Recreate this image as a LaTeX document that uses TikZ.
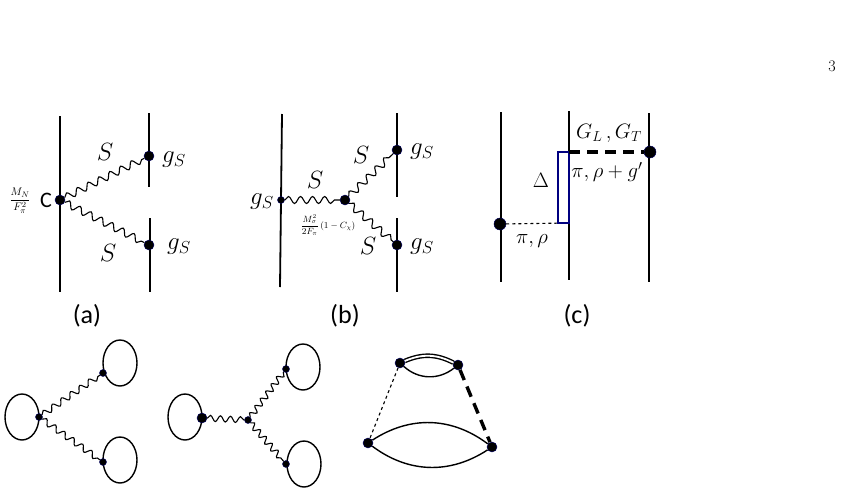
\documentclass[tikz,border=0pt]{standalone}
\usepackage{amsmath}
\usepackage{fontspec}
\newfontfamily\calibri{Carlito}
\usetikzlibrary{decorations.pathmorphing, positioning, calc}
\tikzset{
  fermion/.style = {line width=1.8pt},
  fermionC/.style = {line width=2.6pt},
  vertex/.style = {circle, fill=black, draw=blue!40!black, inner sep=0pt, minimum size=10pt},
  svertex/.style = {circle, fill=black, draw=blue!40!black, inner sep=0pt, minimum size=7pt},
  scalar/.style = {decorate, decoration={snake, amplitude=3.5pt, segment length=12pt}, line width=1.1pt},
  mlabel/.style = {font=\fontsize{24}{24}\selectfont},
  clabel/.style = {font=\fontsize{20}{20}\selectfont, inner sep=1pt},
  caption/.style = {font=\calibri\fontsize{26}{26}\selectfont},
  loopC/.style = {line width=1.4pt},
}
\begin{document}
\begin{tikzpicture}[x=0.35mm, y=-0.35mm]
    \useasboundingbox (0,0) rectangle (854,492);
    \node[font=\fontsize{16}{16}\selectfont] (pg) at (832,66) {3};

    % (a)
    \draw[fermion] (60,116) -- (60,292);
    \draw[fermion] (149,113) -- (149,187);
    \draw[fermion] (150,218) -- (150,292);
    \node[vertex] (a0) at (60,200) {};
    \node[vertex] (a1) at (149,156) {};
    \node[vertex] (a2) at (149,245) {};
    \draw[scalar] (a0) -- (a1);
    \draw[scalar] (a0) -- (a2);
    \node[mlabel] (aS1) at (105,152) {$S$};
    \node[mlabel] (aS2) at (108,253) {$S$};
    \node[mlabel] (ag1) at (174,160) {$g_S$};
    \node[mlabel] (ag2) at (179,247) {$g_S$};
    \node[font=\fontsize{11}{11}\selectfont, inner sep=0pt] (aF) at (20,201) {$\dfrac{M_N}{F_\pi^2}$};
    \node[font=\calibri\fontsize{22}{22}\selectfont, inner sep=0pt] (aC) at (46,200) {C};
    \node[caption] (capa) at (87,316) {(a)};

    % (b)
    \draw[fermion] (282,114) -- (280,287);
    \draw[fermion] (397,113) -- (397,197);
    \draw[fermion] (397,218) -- (397,292);
    \node[svertex] (b0) at (281,200) {};
    \node[vertex] (b1) at (345,200) {};
    \node[vertex] (b2) at (397,150) {};
    \node[vertex] (b3) at (397,245) {};
    \draw[scalar] (b0) -- (b1);
    \draw[scalar] (b1) -- (b2);
    \draw[scalar] (b1) -- (b3);
    \node[mlabel] (bS1) at (315,180) {$S$};
    \node[mlabel] (bS2) at (361,155) {$S$};
    \node[mlabel] (bS3) at (368,246) {$S$};
    \node[mlabel] (bg0) at (262,202) {$g_S$};
    \node[mlabel] (bg1) at (422,152) {$g_S$};
    \node[mlabel] (bg2) at (422,247) {$g_S$};
    \node[font=\fontsize{9}{9}\selectfont, inner sep=0pt] (bM) at (328,225) {$\dfrac{M_\sigma^2}{2F_\pi}\,(1-C_\chi)$};
    \node[caption] (capb) at (345,316) {(b)};

    % (c)
    \draw[fermionC] (501,112) -- (501,282);
    \draw[fermionC] (569,111) -- (569,280);
    \draw[fermionC] (649,113) -- (649,282);
    \node[vertex, minimum size=12pt] (c0) at (500,224) {};
    \node[vertex, minimum size=12pt] (c1) at (650,152) {};
    \coordinate (cm0) at (569,223);
    \coordinate (cm1) at (569,152);
    \draw[dashed, line width=1.1pt] (c0) -- (cm0);
    \draw[blue!50!black, line width=1.1pt] (558,152) rectangle (569,223);
    \draw[line width=3.4pt, dash pattern=on 11pt off 7pt] (cm1) -- (c1);
    \node[clabel] (cG) at (609,133) {$G_L\,,G_T$};
    \node[clabel] (cP) at (607,172) {$\pi,\mathrm{\rho}+g'$};
    \node[clabel] (cD) at (541,180) {$\Delta$};
    \node[clabel] (cp) at (532,241) {$\pi,\rho$};
    \node[caption] (capc) at (577,316) {(c)};

    % bottom row, left
    \draw[loopC] (22,417) ellipse (17 and 23);
    \draw[loopC] (120,363) ellipse (17 and 23);
    \draw[loopC] (120,460) ellipse (17 and 23);
    \node[svertex] (d0) at (39,417) {};
    \node[svertex] (d1) at (103,373) {};
    \node[svertex] (d2) at (103,462) {};
    \draw[scalar, decoration={amplitude=3pt, segment length=11pt}] (d0) -- (d1);
    \draw[scalar, decoration={amplitude=3pt, segment length=11pt}] (d0) -- (d2);

    % bottom row, middle
    \draw[loopC] (185,417) ellipse (17 and 23);
    \draw[loopC] (303,367) ellipse (17 and 23);
    \draw[loopC] (304,464) ellipse (17 and 23);
    \node[vertex] (e0) at (202,418) {};
    \node[svertex] (e1) at (248,420) {};
    \node[svertex] (e2) at (286,369) {};
    \node[svertex] (e3) at (286,464) {};
    \draw[scalar, decoration={amplitude=3pt, segment length=10pt}] (e0) -- (e1);
    \draw[scalar, decoration={amplitude=3pt, segment length=9pt}] (e1) -- (e2);
    \draw[scalar, decoration={amplitude=3pt, segment length=9pt}] (e1) -- (e3);

    % bottom row, right
    \node[vertex] (f0) at (400,363) {};
    \node[vertex] (f1) at (458,365) {};
    \node[vertex] (f2) at (368,443) {};
    \node[vertex] (f3) at (492,447) {};
    \draw[loopC, double, double distance=1.8pt] (f0) to[bend left=25] (f1);
    \draw[loopC] (f0) to[bend right=40] (f1);
    \draw[loopC] (f2) to[bend left=35] (f3);
    \draw[loopC] (f2) to[bend right=35] (f3);
    \draw[dashed, line width=1.1pt] (f0) -- (f2);
    \draw[line width=3.4pt, dash pattern=on 11pt off 7pt] (f1) -- (f3);
\end{tikzpicture}
\end{document}
